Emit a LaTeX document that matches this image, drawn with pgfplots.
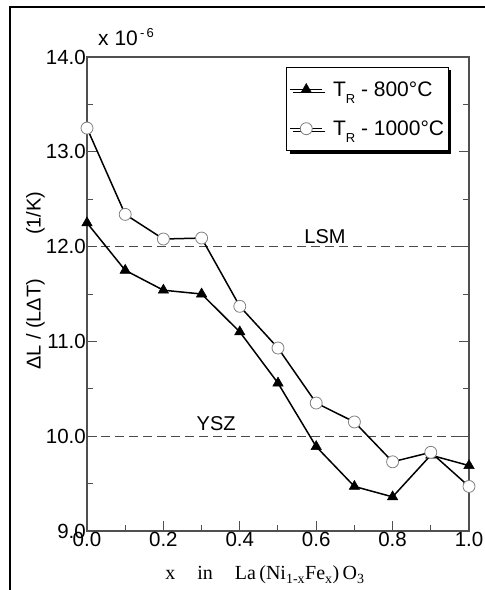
\documentclass[border=0pt]{standalone}
\usepackage{fontspec}
\setmainfont{Liberation Sans}
\newfontfamily\seriffont{Liberation Serif}
\usepackage{pgfplots}
\pgfplotsset{compat=1.18}
\usetikzlibrary{shadows}

\definecolor{axisgray}{HTML}{505050}
\definecolor{dashgray}{HTML}{4A4A4A}

\newcommand{\TR}{T\raisebox{-7pt}{\fontsize{13}{13}\selectfont R}}

\begin{document}
\begin{tikzpicture}
\begin{axis}[
  name=ax, at={(0,0)}, anchor=south west,
  scale only axis, width=382pt, height=474pt,
  xmin=0, xmax=1.0, ymin=9.0, ymax=14.0,
  xtick={0,0.2,0.4,0.6,0.8,1.0},
  minor xtick={0.1,0.3,0.5,0.7,0.9},
  ytick={9,10,11,12,13,14},
  minor ytick={9.5,10.5,11.5,12.5,13.5},
  xtick pos=bottom, ytick pos=both,
  tick align=inside,
  major tick length=10pt, minor tick length=6pt,
  axis line style={axisgray, line width=1.2pt},
  every tick/.style={axisgray, line width=1pt},
  /pgf/number format/assume math mode=true,
  /pgf/number format/fixed, /pgf/number format/fixed zerofill,
  /pgf/number format/precision=1,
  scaled ticks=false,
  tick label style={font=\fontsize{20.5}{22}\selectfont},
  yticklabel style={inner xsep=1pt},
  xticklabel style={inner ysep=1pt},
  ylabel={ΔL / (LΔT)\hspace{2.2em}(1/K)},
  ylabel style={font=\fontsize{20}{22}\selectfont, at={(axis description cs:-0.135,0.528)}, anchor=center},
  xlabel={\seriffont x\hspace{1.1em}in\hspace{1.1em}La\,(Ni\textsubscript{1-x}Fe\textsubscript{x})\,O\textsubscript{3}},
  xlabel style={font=\fontsize{20}{22}\selectfont, at={(axis description cs:0.466,-0.093)}, anchor=center},
  legend style={at={(axis description cs:0.521,0.979)}, anchor=north west,
    draw=black, line width=1pt, fill=white,
    drop shadow={shadow xshift=3pt, shadow yshift=-3pt, fill=black, opacity=1},
    font=\fontsize{21}{23}\selectfont,
    inner xsep=3pt, inner ysep=13pt,
    nodes={inner sep=1pt},
    row sep=21pt,
    /tikz/every odd column/.append style={column sep=9pt}},
  legend cell align=left,
  legend image code/.code={
    \draw[#1, mark repeat=2, mark phase=2] plot coordinates {(0pt,0pt) (16pt,0pt) (32pt,0pt)};
  },
]
% reference levels for the electrolyte and cathode materials
\addplot[dashgray, line width=1pt, dash pattern=on 9pt off 5pt, forget plot] coordinates {(0,12.0) (1.0,12.0)};
\addplot[dashgray, line width=1pt, dash pattern=on 9pt off 5pt, forget plot] coordinates {(0,10.0) (1.0,10.0)};

% calcined at 800 C
\addplot[black, line width=1.5pt, mark=triangle*, mark size=6pt,
  mark options={solid, fill=black, line width=0.5pt}] coordinates {
  (0.0,12.25) (0.1,11.75) (0.2,11.54) (0.3,11.50) (0.4,11.10)
  (0.5,10.56) (0.6,9.89) (0.7,9.47) (0.8,9.36) (0.9,9.80) (1.0,9.69)
};
\addlegendentry{\TR\ - 800°C}

% calcined at 1000 C
\addplot[black, line width=1.5pt, mark=*, mark size=6pt,
  mark options={solid, fill=white, draw=gray, line width=0.8pt}] coordinates {
  (0.0,13.25) (0.1,12.34) (0.2,12.08) (0.3,12.09) (0.4,11.37)
  (0.5,10.93) (0.6,10.35) (0.7,10.15) (0.8,9.73) (0.9,9.83) (1.0,9.47)
};
\addlegendentry{\TR\ - 1000°C}

\node[font=\fontsize{20}{22}\selectfont] at (axis cs:0.623,12.11) {LSM};
\node[font=\fontsize{20}{22}\selectfont] at (axis cs:0.338,10.13) {YSZ};
\end{axis}
% scale factor above the value axis
\node[anchor=base west, font=\fontsize{21}{23}\selectfont, inner sep=0pt] at (11pt,485pt)
  {x 10\raisebox{8pt}{\fontsize{13}{13}\selectfont\,-\,6}};
% frame
\draw[black, line width=2pt] (-77pt,-60pt) -- (-77pt,524pt) -- (399pt,524pt);
\pgfresetboundingbox
\path[use as bounding box] (-87pt,-59pt) rectangle (398pt,531pt);
\end{tikzpicture}
\end{document}
